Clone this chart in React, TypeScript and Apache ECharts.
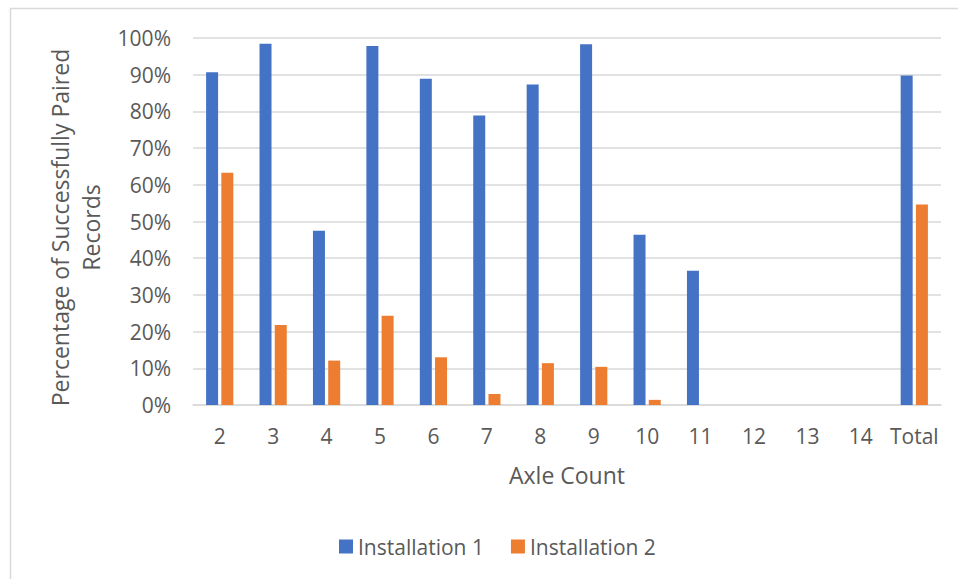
import React, { useEffect, useRef } from "react";
import * as echarts from "echarts";

const axleCounts = ["2", "3", "4", "5", "6", "7", "8", "9", "10", "11", "12", "13", "14", "Total"];
const installation1 = [0.907, 0.984, 0.475, 0.978, 0.889, 0.789, 0.873, 0.983, 0.464, 0.366, 0, 0, 0, 0.898];
const installation2 = [0.633, 0.218, 0.121, 0.243, 0.13, 0.03, 0.114, 0.104, 0.014, 0, 0, 0, 0, 0.546];
const seriesNames = ["Installation 1", "Installation 2"];

const FONT = "'Open Sans', 'Noto Sans', sans-serif";
const TEXT = "#595959";
const GRID = "#d9d9d9";
const SIZE = 21;
const TITLE_SIZE = 23;

export default function App() {
  const ref = useRef<HTMLDivElement>(null);

  useEffect(() => {
    if (!ref.current) return;
    const chart = echarts.init(ref.current, undefined, { renderer: "svg" });
    chart.setOption({
      animation: false,
      backgroundColor: "#ffffff",
      textStyle: { fontFamily: FONT, color: TEXT },
      graphic: [
        {
          type: "rect",
          shape: { x: 10.5, y: 8.5, width: 980, height: 600 },
          style: { fill: "none", stroke: GRID, lineWidth: 1.5 },
          silent: true,
        },
      ],
      grid: { left: 193, right: 17, top: 38, bottom: 174 },
      legend: {
        data: seriesNames,
        left: 334,
        top: 531,
        itemWidth: 14,
        itemHeight: 14,
        itemGap: 27,
        icon: "rect",
        textStyle: { fontFamily: FONT, fontSize: SIZE, color: TEXT },
      },
      xAxis: {
        type: "category",
        data: axleCounts,
        name: "Axle Count",
        nameLocation: "middle",
        nameGap: 58,
        nameTextStyle: { fontFamily: FONT, fontSize: TITLE_SIZE, color: TEXT },
        axisLine: { lineStyle: { color: GRID, width: 1.5 } },
        axisTick: { show: false },
        axisLabel: { fontFamily: FONT, fontSize: SIZE, color: TEXT, margin: 20, interval: 0 },
      },
      yAxis: {
        type: "value",
        min: 0,
        max: 1,
        interval: 0.1,
        name: "Percentage of Successfully Paired\nRecords",
        nameLocation: "middle",
        nameRotate: 90,
        nameGap: 84,
        nameTextStyle: {
          fontFamily: FONT,
          fontSize: TITLE_SIZE,
          color: TEXT,
          lineHeight: 31,
          padding: [0, 12, 0, 0],
        },
        axisLine: { show: false },
        axisTick: { show: false },
        splitLine: { lineStyle: { color: GRID, width: 1.5 } },
        axisLabel: {
          fontFamily: FONT,
          fontSize: SIZE,
          color: TEXT,
          margin: 22,
          formatter: (v: number) => `${Math.round(v * 100)}%`,
        },
      },
      series: [
        {
          name: seriesNames[0],
          type: "bar",
          data: installation1,
          barWidth: 12,
          barGap: "27%",
          itemStyle: { color: "#4472C4" },
        },
        {
          name: seriesNames[1],
          type: "bar",
          data: installation2,
          barWidth: 12,
          itemStyle: { color: "#ED7D31" },
        },
      ],
    });
    return () => chart.dispose();
  }, []);

  return (
    <div
      ref={ref}
      style={{ position: "fixed", left: 0, top: 0, width: 958, height: 579 }}
    />
  );
}
